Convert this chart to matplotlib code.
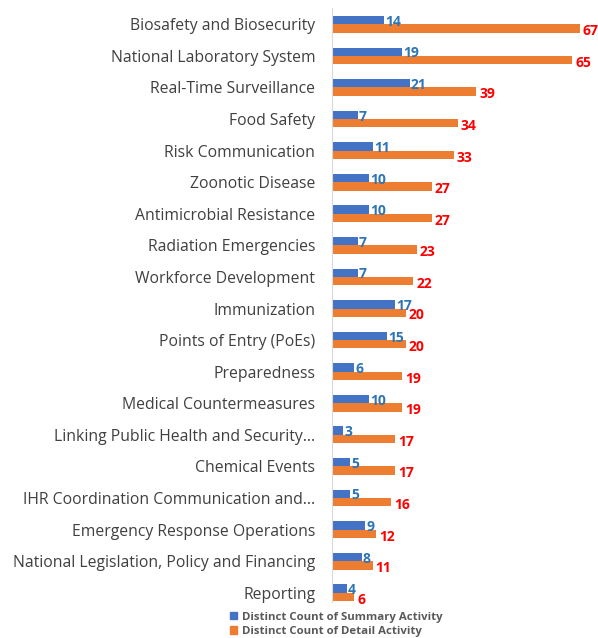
import matplotlib
matplotlib.use("Agg")
import matplotlib.pyplot as plt
import numpy as np
from matplotlib.patches import Patch

categories = ["Biosafety and Biosecurity", "National Laboratory System", "Real-Time Surveillance",
              "Food Safety", "Risk Communication", "Zoonotic Disease", "Antimicrobial Resistance",
              "Radiation Emergencies", "Workforce Development", "Immunization",
              "Points of Entry (PoEs)", "Preparedness", "Medical Countermeasures",
              "Linking Public Health and Security...", "Chemical Events",
              "IHR Coordination Communication and...", "Emergency Response Operations",
              "National Legislation, Policy and Financing", "Reporting"]
summary = [14, 19, 21, 7, 11, 10, 10, 7, 7, 17, 15, 6, 10, 3, 5, 5, 9, 8, 4]
detail = [67, 65, 39, 34, 33, 27, 27, 23, 22, 20, 20, 19, 19, 17, 17, 16, 12, 11, 6]
series_names = ["Distinct Count of Summary Activity", "Distinct Count of Detail Activity"]

plt.rcParams['font.family'] = ['Open Sans', 'DejaVu Sans']
fig = plt.figure(figsize=(5.98, 6.38), dpi=100)
W, H = 598, 638
top_px, bot_px = 8, 602
ax = fig.add_axes([332 / W, (H - bot_px) / H, 266 / W, (bot_px - top_px) / H])

y = np.arange(len(categories))
h = 0.265
blue = "#4472C4"
orange = "#ED7D31"
ax.barh(y - h / 2, summary, height=h, color=blue)
ax.barh(y + h / 2, detail, height=h, color=orange)

for yi, s, d in zip(y, summary, detail):
    ax.text(s + 0.3, yi - 0.08, str(s), color="#2E75B6", fontsize=10, fontweight="bold",
            va="center", ha="left")
    ax.text(d + 0.8, yi + 0.22, str(d), color="#FF0000", fontsize=10, fontweight="bold",
            va="center", ha="left")

ax.set_xlim(0, 72)
sp = 31.58
ax.set_ylim((bot_px - 24.3) / sp, (top_px - 24.3) / sp)
ax.set_yticks(y)
ax.set_yticklabels(categories, fontsize=11.3, color="#404040")
ax.tick_params(axis='y', length=0, pad=12)
ax.set_xticks([])
for s in ["top", "right", "bottom"]:
    ax.spines[s].set_visible(False)
ax.spines["left"].set_color("#D9D9D9")

handles = [Patch(color=blue), Patch(color=orange)]
fig.legend(handles, series_names, loc="upper left", bbox_to_anchor=(224 / W, 1 - 606 / H),
           frameon=False, handlelength=0.6, handleheight=0.6, handletextpad=0.5,
           labelspacing=0.3, borderpad=0, prop={'weight': 'bold', 'size': 8.2})
for t in fig.legends[0].get_texts():
    t.set_color("#595959")

fig.savefig("out.png", dpi=100)
